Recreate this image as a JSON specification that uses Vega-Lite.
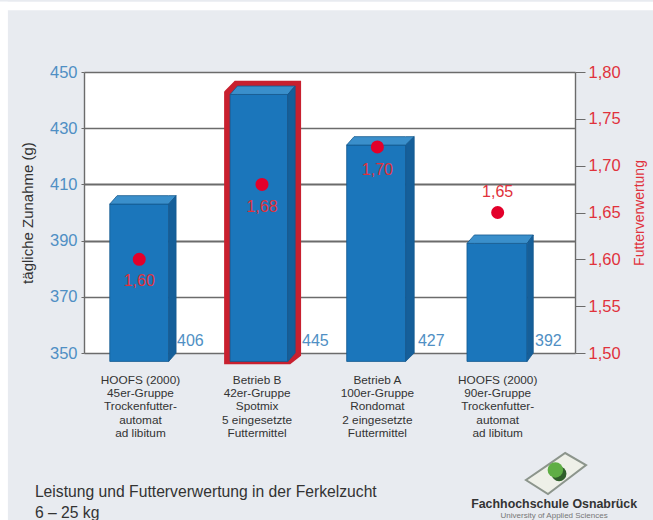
{
"$schema":"https://vega.github.io/schema/vega-lite/v6.json",
"width":491,"height":281,
"autosize":{"type":"none"},
"padding":{"left":84,"top":72,"right":78,"bottom":167},
"background":"#e8ebf0",
"view":{"fill":"white","stroke":null},
"datasets":{
"strips":[{"x":-0.685,"x2":-0.62,"y":475,"y2":290},{"x":-0.685,"x2":4.64,"y":475,"y2":472}],
"outline":[{"x":1.17,"y":442.5,"y2":347.2},{"x":1.24,"y":445.6,"y2":347.2},{"x":1.67,"y":445.6,"y2":347.2},{"x":1.74,"y":445.6,"y2":349.6}],
"faces":[
{"bar":"1","face":"front","x":0.21,"y":403,"y2":347},{"bar":"1","face":"front","x":0.69,"y":403,"y2":347},
{"bar":"1","face":"top","x":0.21,"y":403,"y2":403},{"bar":"1","face":"top","x":0.27,"y":406,"y2":403},{"bar":"1","face":"top","x":0.69,"y":406,"y2":403},{"bar":"1","face":"top","x":0.75,"y":406,"y2":406},
{"bar":"1","face":"side","x":0.69,"y":403,"y2":347},{"bar":"1","face":"side","x":0.75,"y":406,"y2":350},
{"bar":"2","face":"front","x":1.19,"y":442,"y2":347},{"bar":"2","face":"front","x":1.66,"y":442,"y2":347},
{"bar":"2","face":"top","x":1.19,"y":442,"y2":442},{"bar":"2","face":"top","x":1.25,"y":445,"y2":442},{"bar":"2","face":"top","x":1.66,"y":445,"y2":442},{"bar":"2","face":"top","x":1.72,"y":445,"y2":445},
{"bar":"2","face":"side","x":1.66,"y":442,"y2":347},{"bar":"2","face":"side","x":1.72,"y":445,"y2":350},
{"bar":"3","face":"front","x":2.14,"y":424,"y2":347},{"bar":"3","face":"front","x":2.62,"y":424,"y2":347},
{"bar":"3","face":"top","x":2.14,"y":424,"y2":424},{"bar":"3","face":"top","x":2.2,"y":427,"y2":424},{"bar":"3","face":"top","x":2.62,"y":427,"y2":424},{"bar":"3","face":"top","x":2.69,"y":427,"y2":427},
{"bar":"3","face":"side","x":2.62,"y":424,"y2":347},{"bar":"3","face":"side","x":2.69,"y":427,"y2":350},
{"bar":"4","face":"front","x":3.12,"y":389,"y2":347},{"bar":"4","face":"front","x":3.61,"y":389,"y2":347},
{"bar":"4","face":"top","x":3.12,"y":389,"y2":389},{"bar":"4","face":"top","x":3.18,"y":392,"y2":389},{"bar":"4","face":"top","x":3.61,"y":392,"y2":389},{"bar":"4","face":"top","x":3.66,"y":392,"y2":392},
{"bar":"4","face":"side","x":3.61,"y":389,"y2":347},{"bar":"4","face":"side","x":3.66,"y":392,"y2":350}
],
"bars":[{"x":0.758,"y":354.3,"t":"406"},{"x":1.776,"y":354.3,"t":"445"},{"x":2.72,"y":354.3,"t":"427"},{"x":3.674,"y":354.3,"t":"392"}],
"groups":[
{"x":0.46,"y":342.3,"t":"HOOFS (2000)\n45er-Gruppe\nTrockenfutter-\nautomat\nad libitum"},
{"x":1.41,"y":342.3,"t":"Betrieb B\n42er-Gruppe\nSpotmix\n5 eingesetzte\nFuttermittel"},
{"x":2.39,"y":342.3,"t":"Betrieb A\n100er-Gruppe\nRondomat\n2 eingesetzte\nFuttermittel"},
{"x":3.37,"y":342.3,"t":"HOOFS (2000)\n90er-Gruppe\nTrockenfutter-\nautomat\nad libitum"}],
"caption":[{"x":-0.4,"y":300.5,"t":"Leistung und Futterverwertung in der Ferkelzucht"},{"x":-0.4,"y":293.1,"t":"6 – 25 kg"}],
"logoText":[{"x":3.83,"y":296.3,"t":"Fachhochschule Osnabrück"}],
"logoSub":[{"x":3.83,"y":292,"t":"University of Applied Sciences"}],
"logoPlate":[{"x":3.60,"y":304.8,"y2":304.8},{"x":3.78,"y":310.2,"y2":299.8},{"x":3.92,"y":314.4,"y2":304.45},{"x":4.09,"y":310.1,"y2":310.1}],
"logoShadow":[{"x":3.87,"y":307}],
"logoDot":[{"x":3.84,"y":308.4}],
"fcr":[{"x":0.45,"v":1.60},{"x":1.45,"v":1.68},{"x":2.39,"v":1.72},{"x":3.37,"v":1.65}],
"fcrLabels":[{"x":0.45,"v":1.577,"t":"1,60"},{"x":1.45,"v":1.656,"t":"1,68"},{"x":2.39,"v":1.695,"t":"1,70"},{"x":3.37,"v":1.672,"t":"1,65"}]
},
"encoding":{"x":{"field":"x","type":"quantitative","scale":{"domain":[0,4],"nice":false,"zero":false},"axis":null}},
"layer":[
{"encoding":{"y":{"field":"y","type":"quantitative","scale":{"domain":[350,450],"nice":false,"zero":false},
 "axis":{"title":"tägliche Zunahme (g)","values":[350,370,390,410,430,450],"grid":true,"gridColor":"#6b6b6b","gridOpacity":1,
 "gridWidth":{"condition":{"test":"datum.value==410||datum.value==390","value":2},"value":1.4},
 "domainColor":"#6b6b6b","domainWidth":1.4,"tickColor":"#6b6b6b","tickSize":3,"labelColor":"#4f8fc4","labelFontSize":16.5,"labelPadding":4,"titleColor":"#333333","titleFontSize":15,"titleFontWeight":"normal","titlePadding":14}}},
 "layer":[
 {"data":{"name":"strips"},"mark":{"type":"rect","color":"white"},"encoding":{"x2":{"field":"x2"},"y2":{"field":"y2"}}},
 {"data":{"name":"outline"},"mark":{"type":"area","fill":"#c8202f","stroke":"#c8202f","strokeWidth":7,"strokeJoin":"miter"},"encoding":{"y2":{"field":"y2"}}},
 {"data":{"name":"faces"},"mark":{"type":"area","stroke":"#14598f","strokeWidth":0.8},"encoding":{"y2":{"field":"y2"},"detail":{"field":"bar"},"color":{"field":"face","type":"nominal","legend":null,"scale":{"domain":["front","top","side"],"range":["#1b76bb","#3a8fcb","#155f9a"]}}}},
 {"data":{"name":"bars"},"mark":{"type":"text","align":"left","baseline":"middle","fontSize":16,"color":"#4f8fc4"},"encoding":{"text":{"field":"t"}}},
 {"data":{"name":"groups"},"mark":{"type":"text","align":"center","baseline":"top","fontSize":11.8,"lineHeight":13.4,"lineBreak":"\n","color":"#333333"},"encoding":{"text":{"field":"t"}}},
 {"data":{"name":"caption"},"mark":{"type":"text","align":"left","baseline":"middle","fontSize":15.7,"color":"#333333"},"encoding":{"text":{"field":"t"}}},
 {"data":{"name":"logoPlate"},"mark":{"type":"area","fill":"#eef0e8","stroke":"#8c958c","strokeWidth":2},"encoding":{"y2":{"field":"y2"}}},
 {"data":{"name":"logoShadow"},"mark":{"type":"point","shape":"circle","filled":true,"size":220,"color":"#2f5f2a","opacity":1}},
 {"data":{"name":"logoDot"},"mark":{"type":"point","shape":"circle","filled":true,"size":240,"color":"#5fae45","opacity":1}},
 {"data":{"name":"logoText"},"mark":{"type":"text","align":"center","baseline":"middle","fontSize":12.4,"fontWeight":"bold","color":"#333333"},"encoding":{"text":{"field":"t"}}},
 {"data":{"name":"logoSub"},"mark":{"type":"text","align":"center","baseline":"middle","fontSize":8,"color":"#777777"},"encoding":{"text":{"field":"t"}}}
 ]},
{"encoding":{"y":{"field":"v","type":"quantitative","scale":{"domain":[1.5,1.8],"nice":false,"zero":false},
 "axis":{"orient":"right","title":"Futterverwertung","titleAngle":-90,"values":[1.5,1.55,1.6,1.65,1.7,1.75,1.8],"labelExpr":"replace(format(datum.value,'.2f'),'.',',')","grid":false,"domainColor":"#6b6b6b","domainWidth":1.4,"tickColor":"#6b6b6b","tickSize":10,"labelColor":"#e0323c","labelFontSize":16.5,"labelPadding":3,"titleColor":"#e0323c","titleFontSize":14,"titleFontWeight":"normal","titlePadding":26}}},
 "layer":[
 {"data":{"name":"fcr"},"mark":{"type":"point","shape":"circle","filled":true,"size":170,"color":"#e3002a","opacity":1}},
 {"data":{"name":"fcrLabels"},"mark":{"type":"text","align":"center","baseline":"middle","fontSize":16,"color":"#e0323c"},"encoding":{"text":{"field":"t"}}}
 ]}
],
"resolve":{"scale":{"y":"independent"}}
}
